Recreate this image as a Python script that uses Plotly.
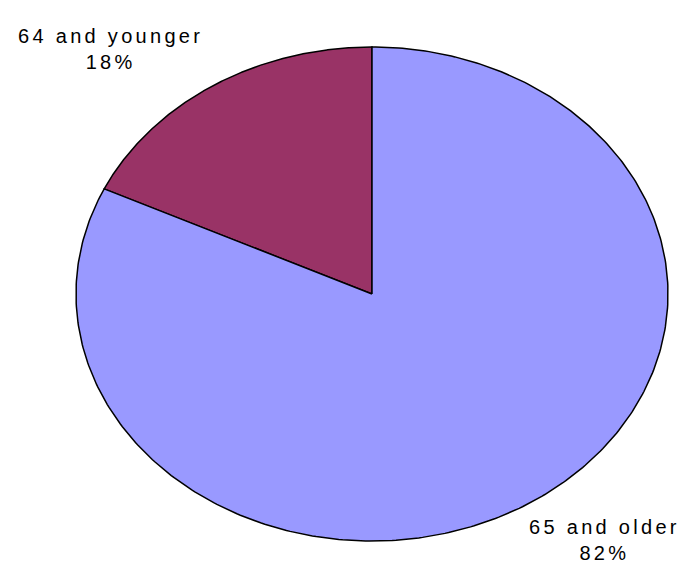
import numpy as np
import plotly.graph_objects as go

# Data
categories = ["64 and younger", "65 and older"]
values = [18, 82]
colors = ["#993366", "#9999FF"]

# Layout geometry (pixels)
W, H = 688, 571
CX, CY, RX, RY = 364, 286, 296, 247

total = float(sum(values))
fig = go.Figure()

# younger slice goes counter-clockwise from 12 o'clock, older clockwise
directions = [-1, 1]
for cat, val, col, d in zip(categories, values, colors, directions):
    frac = val / total
    t = np.linspace(0, d * frac * 2 * np.pi, 400)
    xs = np.concatenate([[CX], CX + RX * np.sin(t), [CX]])
    ys = np.concatenate([[CY], CY - RY * np.cos(t), [CY]])
    fig.add_trace(go.Scatter(
        x=xs, y=ys, mode="lines", fill="toself", fillcolor=col,
        line=dict(color="black", width=1.5), hoverinfo="text",
        text=f"{cat}: {val}%", showlegend=False,
    ))

label_pos = [(102, 41), (596, 532)]
for cat, val, (lx, ly) in zip(categories, values, label_pos):
    pct = round(val / total * 100)
    txt = (f'<span style="letter-spacing:3.3px">{cat}</span><br>'
           f'<span style="letter-spacing:3.3px">{pct}%</span>')
    fig.add_annotation(x=lx, y=ly, text=txt, showarrow=False,
                       font=dict(family="Liberation Sans, Arial", size=20, color="black"),
                       align="center", xanchor="center", yanchor="middle")

fig.update_layout(
    width=W, height=H, margin=dict(l=0, r=0, t=0, b=0),
    paper_bgcolor="white", plot_bgcolor="white",
    xaxis=dict(range=[0, W], visible=False, fixedrange=True),
    yaxis=dict(range=[H, 0], visible=False, fixedrange=True),
)
fig.write_html("out.html")
